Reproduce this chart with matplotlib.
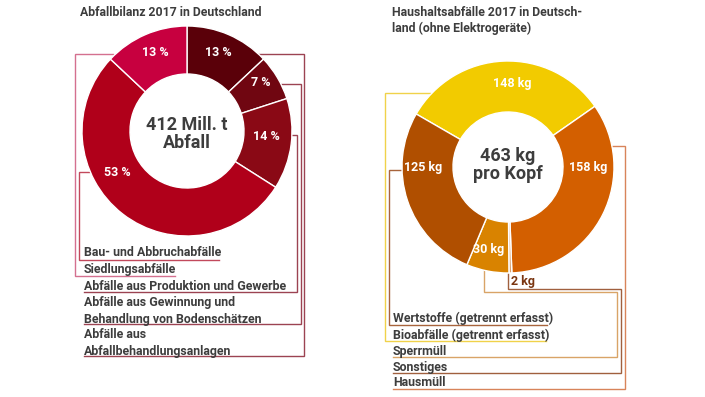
import matplotlib
matplotlib.use("Agg")
import matplotlib.pyplot as plt

# ---------------- data ----------------
left_title = "Abfallbilanz 2017 in Deutschland"
left_center_text = "412 Mill. t\nAbfall"
# clockwise from top
left_values = [13, 7, 14, 53, 13]
left_labels = ["13 %", "7 %", "14 %", "53 %", "13 %"]
left_colors = ["#5a0009", "#700611", "#8a0915", "#b0001a", "#c7003f"]
left_legend = ["Bau- und Abbruchabfälle", "Siedlungsabfälle",
               "Abfälle aus Produktion und Gewerbe",
               "Abfälle aus Gewinnung und\nBehandlung von Bodenschätzen",
               "Abfälle aus\nAbfallbehandlungsanlagen"]

right_title = "Haushaltsabfälle 2017 in Deutsch-\nland (ohne Elektrogeräte)"
right_center_text = "463 kg\npro Kopf"
# clockwise starting at upper left
right_values = [148, 158, 2, 30, 125]
right_labels = ["148 kg", "158 kg", "2 kg", "30 kg", "125 kg"]
right_colors = ["#f2cb00", "#d35f00", "#d9a070", "#d98300", "#b04f00"]
right_legend = ["Wertstoffe (getrennt erfasst)", "Bioabfälle (getrennt erfasst)",
                "Sperrmüll", "Sonstiges", "Hausmüll"]

W, H = 705, 397
FONT = "Roboto"
TXT = "#3d3d3d"

fig = plt.figure(figsize=(W / 100, H / 100), dpi=100)
ax = fig.add_axes([0, 0, 1, 1])


def Y(y):
    return H - y


# ---------------- left donut ----------------
lc = (187, Y(131))
ax.pie(left_values, colors=left_colors, startangle=90, counterclock=False,
       radius=105, center=lc,
       wedgeprops=dict(width=48, edgecolor="white", linewidth=1.0, zorder=3),
       frame=False)

left_label_pos = [(218, 53), (261, 83), (266, 137), (117, 173), (155, 53)]
for (x, y), t in zip(left_label_pos, left_labels):
    ax.text(x, Y(y), t, color="white", fontsize=9, fontweight="bold",
            family=FONT, ha="center", va="center", zorder=5)

ax.text(lc[0], Y(134), left_center_text, color=TXT, fontsize=13,
        fontweight="bold", family=FONT, ha="center", va="center",
        linespacing=1.05, zorder=5)

ax.text(80, Y(13), left_title, color=TXT, fontsize=8.8, fontweight="bold",
        family=FONT, ha="left", va="center")

# left legend texts
left_text_y = [253, 270, 287, 311, 343]
for t, y in zip(left_legend, left_text_y):
    ax.text(84, Y(y), t, color=TXT, fontsize=8.9, fontweight="bold",
            family=FONT, ha="left", va="center", linespacing=1.38)

# connectors
left_conn = [
    ([89, 79, 79, 219], [172, 172, 260, 260], "#c2495c"),
    ([113, 75, 75, 175], [54, 54, 276, 276], "#d4708f"),
    ([290, 297, 297, 84], [135, 135, 292, 292], "#9c4352"),
    ([280, 301, 301, 84], [84, 84, 324, 324], "#9c4352"),
    ([256, 304, 304, 84], [54, 54, 356, 356], "#9c4352"),
]
for xs, ys, c in left_conn:
    ax.plot(xs, [Y(v) for v in ys], color=c, lw=1.0, zorder=1,
            solid_joinstyle="miter")

# ---------------- right donut ----------------
rc = (508, Y(167))
ax.pie(right_values, colors=right_colors, startangle=150, counterclock=False,
       radius=106, center=rc,
       wedgeprops=dict(width=51, edgecolor="white", linewidth=1.0, zorder=3),
       frame=False)

right_label_pos = [(512, 83), (588, 168), (523, 282), (489, 249), (423, 168)]
for (x, y), t in zip(right_label_pos, right_labels):
    col = "#7a3510" if t == "2 kg" else "white"
    ax.text(x, Y(y), t, color=col, fontsize=9, fontweight="bold",
            family=FONT, ha="center", va="center", zorder=5)

ax.text(rc[0], Y(165), right_center_text, color=TXT, fontsize=13,
        fontweight="bold", family=FONT, ha="center", va="center",
        linespacing=1.05, zorder=5)

ax.text(392, Y(20.5), right_title, color=TXT, fontsize=8.8, fontweight="bold",
        family=FONT, ha="left", va="center", linespacing=1.35)

right_text_y = [318, 335, 351, 367, 383]
for t, y in zip(right_legend, right_text_y):
    ax.text(393, Y(y), t, color=TXT, fontsize=8.9, fontweight="bold",
            family=FONT, ha="left", va="center")

right_conn = [
    ([405, 389, 389, 547], [170, 170, 325, 325], "#a8643c"),
    ([430, 385, 385, 546], [93, 93, 341, 341], "#f0d24a"),
    ([484, 484, 617, 617, 393], [262, 292, 292, 357, 357], "#d9a467"),
    ([508, 508, 621, 621, 393], [265, 289, 289, 373, 373], "#a0603e"),
    ([610, 625, 625, 393], [146, 146, 389, 389], "#d8845a"),
]
for xs, ys, c in right_conn:
    ax.plot(xs, [Y(v) for v in ys], color=c, lw=1.0, zorder=1,
            solid_joinstyle="miter")

ax.set_xlim(0, W)
ax.set_ylim(0, H)
ax.set_aspect("equal")
ax.axis("off")

fig.savefig("out.png", dpi=100, facecolor="white")
